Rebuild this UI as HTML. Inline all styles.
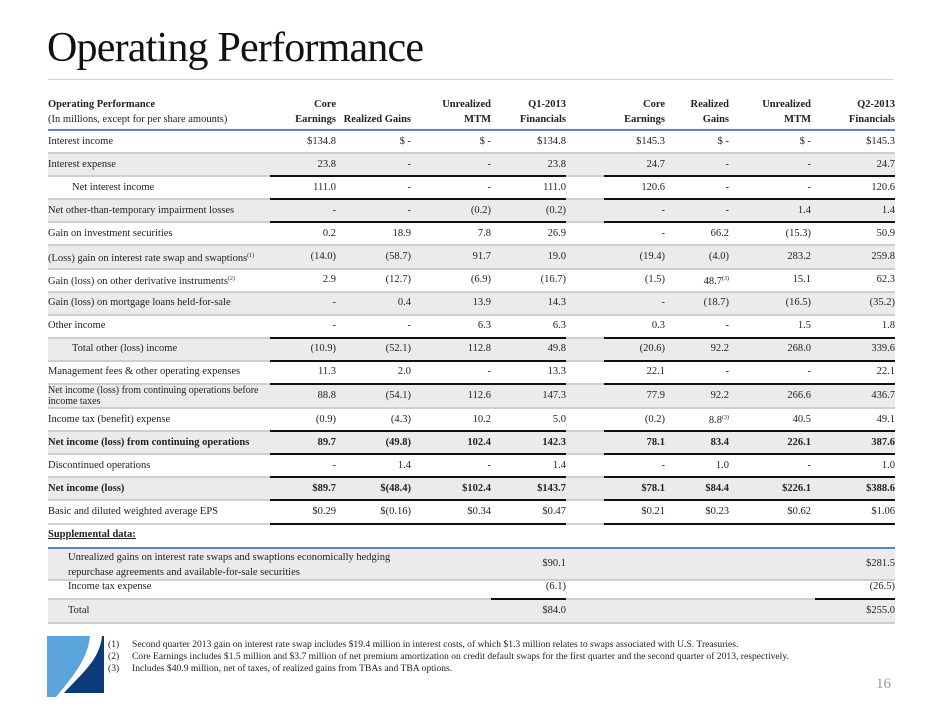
<!DOCTYPE html>
<html><head><meta charset="utf-8"><style>
body{margin:0;width:940px;height:705px;background:#fff;position:relative;overflow:hidden;font-family:"Liberation Serif",serif;color:#222}
.title{position:absolute;left:47px;top:24px;font-size:42px;letter-spacing:-0.8px;color:#111}
.hr{position:absolute;left:48px;top:79px;width:845px;height:1px;background:#d0d0d0}
table{position:absolute;left:48px;border-collapse:separate;border-spacing:0;table-layout:fixed;font-size:10.5px;width:847px}
td{padding:0;text-align:right;white-space:nowrap;box-sizing:border-box;border-bottom:2px solid #cfcfcf;vertical-align:middle;line-height:12px}
td.l{text-align:left}
tr.g td{background:#ebebeb}
tr.r td{height:23.1px}
tr.k td.n{border-bottom:2px solid #111}
tr.b td{font-weight:bold}
.ind{padding-left:24px}
sup{font-size:6px;vertical-align:4px}
th{font-weight:bold;text-align:right;font-size:10.5px;line-height:15px;vertical-align:bottom;padding:0 0 2px 0;border-bottom:2px solid #5a86c8}
.fn{position:absolute;left:108px;font-size:9.6px;line-height:12px}
.fn span{display:inline-block;width:24px}
</style></head><body>
<div class="title">Operating Performance</div>
<div class="hr"></div>
<table style="top:97px">
<colgroup><col style="width:222px"><col style="width:66px"><col style="width:75px"><col style="width:80px"><col style="width:75px"><col style="width:38px"><col style="width:61px"><col style="width:64px"><col style="width:82px"><col style="width:84px"></colgroup>
<tr><th style="text-align:left">Operating Performance<br><span style="font-weight:normal">(In millions, except for per share amounts)</span></th><th>Core<br>Earnings</th><th>Realized Gains</th><th>Unrealized<br>MTM</th><th>Q1-2013<br>Financials</th><th></th><th>Core<br>Earnings</th><th>Realized<br>Gains</th><th>Unrealized<br>MTM</th><th>Q2-2013<br>Financials</th></tr>
<tr class="r"><td class="l">Interest income</td><td class="n">$134.8</td><td class="n">$ -</td><td class="n">$ -</td><td class="n">$134.8</td><td></td><td class="n">$145.3</td><td class="n">$ -</td><td class="n">$ -</td><td class="n">$145.3</td></tr>
<tr class="r g k"><td class="l">Interest expense</td><td class="n">23.8</td><td class="n">-</td><td class="n">-</td><td class="n">23.8</td><td></td><td class="n">24.7</td><td class="n">-</td><td class="n">-</td><td class="n">24.7</td></tr>
<tr class="r k"><td class="l ind">Net interest income</td><td class="n">111.0</td><td class="n">-</td><td class="n">-</td><td class="n">111.0</td><td></td><td class="n">120.6</td><td class="n">-</td><td class="n">-</td><td class="n">120.6</td></tr>
<tr class="r g k"><td class="l">Net other-than-temporary impairment losses</td><td class="n">-</td><td class="n">-</td><td class="n">(0.2)</td><td class="n">(0.2)</td><td></td><td class="n">-</td><td class="n">-</td><td class="n">1.4</td><td class="n">1.4</td></tr>
<tr class="r"><td class="l">Gain on investment securities</td><td>0.2</td><td>18.9</td><td>7.8</td><td>26.9</td><td></td><td>-</td><td>66.2</td><td>(15.3)</td><td>50.9</td></tr>
<tr class="r g"><td class="l">(Loss) gain on interest rate swap and swaptions<sup>(1)</sup></td><td>(14.0)</td><td>(58.7)</td><td>91.7</td><td>19.0</td><td></td><td>(19.4)</td><td>(4.0)</td><td>283.2</td><td>259.8</td></tr>
<tr class="r"><td class="l">Gain (loss) on other derivative instruments<sup>(2)</sup></td><td>2.9</td><td>(12.7)</td><td>(6.9)</td><td>(16.7)</td><td></td><td>(1.5)</td><td>48.7<sup>(3)</sup></td><td>15.1</td><td>62.3</td></tr>
<tr class="r g"><td class="l">Gain (loss) on mortgage loans held-for-sale</td><td>-</td><td>0.4</td><td>13.9</td><td>14.3</td><td></td><td>-</td><td>(18.7)</td><td>(16.5)</td><td>(35.2)</td></tr>
<tr class="r k"><td class="l">Other income</td><td class="n">-</td><td class="n">-</td><td class="n">6.3</td><td class="n">6.3</td><td></td><td class="n">0.3</td><td class="n">-</td><td class="n">1.5</td><td class="n">1.8</td></tr>
<tr class="r g k"><td class="l ind">Total other (loss) income</td><td class="n">(10.9)</td><td class="n">(52.1)</td><td class="n">112.8</td><td class="n">49.8</td><td></td><td class="n">(20.6)</td><td class="n">92.2</td><td class="n">268.0</td><td class="n">339.6</td></tr>
<tr class="r k"><td class="l">Management fees &amp; other operating expenses</td><td class="n">11.3</td><td class="n">2.0</td><td class="n">-</td><td class="n">13.3</td><td></td><td class="n">22.1</td><td class="n">-</td><td class="n">-</td><td class="n">22.1</td></tr>
<tr class="r g"><td class="l" style="font-size:10px;line-height:11px">Net income (loss) from continuing operations before<br>income taxes</td><td>88.8</td><td>(54.1)</td><td>112.6</td><td>147.3</td><td></td><td>77.9</td><td>92.2</td><td>266.6</td><td>436.7</td></tr>
<tr class="r k"><td class="l">Income tax (benefit) expense</td><td class="n">(0.9)</td><td class="n">(4.3)</td><td class="n">10.2</td><td class="n">5.0</td><td></td><td class="n">(0.2)</td><td class="n">8.8<sup>(3)</sup></td><td class="n">40.5</td><td class="n">49.1</td></tr>
<tr class="r g k b"><td class="l">Net income (loss) from continuing operations</td><td class="n">89.7</td><td class="n">(49.8)</td><td class="n">102.4</td><td class="n">142.3</td><td></td><td class="n">78.1</td><td class="n">83.4</td><td class="n">226.1</td><td class="n">387.6</td></tr>
<tr class="r k"><td class="l">Discontinued operations</td><td class="n">-</td><td class="n">1.4</td><td class="n">-</td><td class="n">1.4</td><td></td><td class="n">-</td><td class="n">1.0</td><td class="n">-</td><td class="n">1.0</td></tr>
<tr class="r g k b"><td class="l">Net income (loss)</td><td class="n">$89.7</td><td class="n">$(48.4)</td><td class="n">$102.4</td><td class="n">$143.7</td><td></td><td class="n">$78.1</td><td class="n">$84.4</td><td class="n">$226.1</td><td class="n">$388.6</td></tr>
<tr class="r k"><td class="l">Basic and diluted weighted average EPS</td><td class="n">$0.29</td><td class="n">$(0.16)</td><td class="n">$0.34</td><td class="n">$0.47</td><td></td><td class="n">$0.21</td><td class="n">$0.23</td><td class="n">$0.62</td><td class="n">$1.06</td></tr>
</table>
<div style="position:absolute;left:48px;top:529px;font-size:10.5px;font-weight:bold;text-decoration:underline">Supplemental data:</div>
<div style="position:absolute;left:48px;top:547px;width:847px;height:2px;background:#5a86c8"></div>
<div style="position:absolute;left:48px;top:549px;width:847px;height:30px;background:#ebebeb;border-bottom:2px solid #cfcfcf"></div>
<div style="position:absolute;left:48px;top:581px;width:847px;height:17px;border-bottom:2px solid #cfcfcf"></div>
<div style="position:absolute;left:48px;top:600px;width:847px;height:22px;background:#ebebeb;border-bottom:2px solid #cfcfcf"></div>
<div style="position:absolute;left:491px;top:598px;width:75px;height:2px;background:#111"></div>
<div style="position:absolute;left:815px;top:598px;width:80px;height:2px;background:#111"></div>
<div style="position:absolute;left:68px;top:550px;font-size:10.5px;line-height:15px">Unrealized gains on interest rate swaps and swaptions economically hedging<br>repurchase agreements and available-for-sale securities</div>
<div style="position:absolute;right:374px;top:558px;font-size:10.5px">$90.1</div>
<div style="position:absolute;right:45px;top:558px;font-size:10.5px">$281.5</div>
<div style="position:absolute;left:68px;top:581px;font-size:10.5px">Income tax expense</div>
<div style="position:absolute;right:374px;top:581px;font-size:10.5px">(6.1)</div>
<div style="position:absolute;right:45px;top:581px;font-size:10.5px">(26.5)</div>
<div style="position:absolute;left:68px;top:605px;font-size:10.5px">Total</div>
<div style="position:absolute;right:374px;top:605px;font-size:10.5px">$84.0</div>
<div style="position:absolute;right:45px;top:605px;font-size:10.5px">$255.0</div>
<svg style="position:absolute;left:0;top:0" width="940" height="705">
<path d="M47 636 L90 636 C88 660 70 680 56 697 L47 697 Z" fill="#5ca5dc"/>
<path d="M102 636 L104 636 L104 693 L64 693 C80 675 100 660 102 636 Z" fill="#0d3a78"/>
</svg>
<div class="fn" style="top:639px"><span>(1)</span>Second quarter 2013 gain on interest rate swap includes $19.4 million in interest costs, of which $1.3 million relates to swaps associated with U.S. Treasuries.</div>
<div class="fn" style="top:651px"><span>(2)</span>Core Earnings includes $1.5 million and $3.7 million of net premium amortization on credit default swaps for the first quarter and the second quarter of 2013, respectively.</div>
<div class="fn" style="top:663px"><span>(3)</span>Includes $40.9 million, net of taxes, of realized gains from TBAs and TBA options.</div>
<div style="position:absolute;left:876px;top:676px;font-size:15px;color:#999">16</div>
</body></html>
